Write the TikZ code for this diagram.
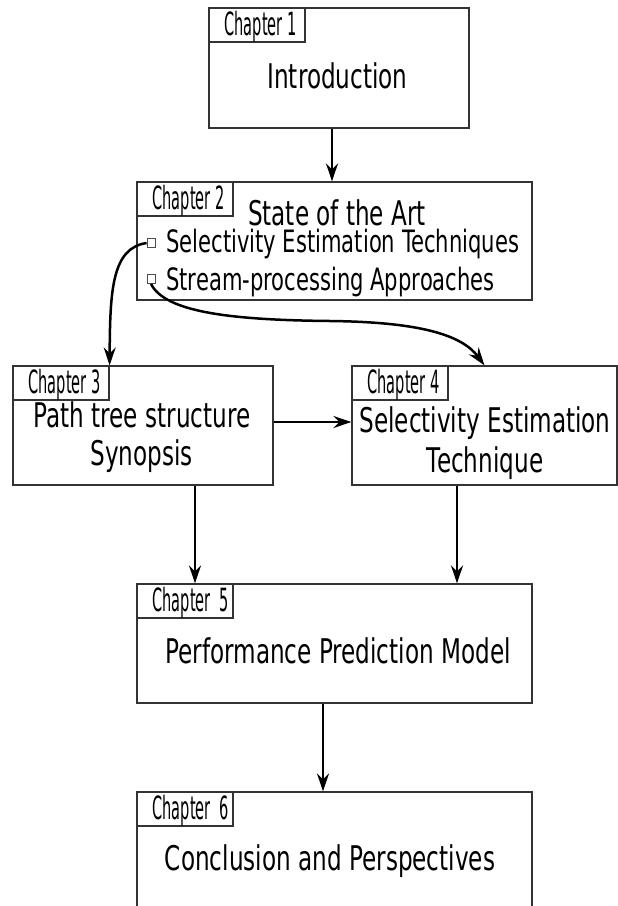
\documentclass[tikz,border=0pt]{standalone}
\usepackage{fontspec}
\setmainfont{DejaVu Sans}
\newfontfamily\mainf[FakeStretch=0.68]{DejaVu Sans}
\newfontfamily\bulf[FakeStretch=0.685]{DejaVu Sans}
\newfontfamily\tagf[FakeStretch=0.455]{DejaVu Sans}
\usetikzlibrary{arrows.meta,calc}
\tikzset{
 box/.style={draw=black!80, line width=1.2pt, inner sep=0pt},
 tagbox/.style={draw=black!80, line width=1.2pt, anchor=north west, minimum width=96pt, minimum height=34pt, inner xsep=0pt, inner ysep=3.5pt, text height=23.5pt, text depth=3.5pt, font=\tagf\fontsize{32}{34}\selectfont},
 big/.style={anchor=base, font=\mainf\fontsize{34}{38}\selectfont, inner sep=0pt},
 bul/.style={anchor=base west, font=\bulf\fontsize{30.8}{34}\selectfont, inner sep=0pt},
 sq/.style={draw=black!70, line width=0.8pt, minimum width=8pt, minimum height=9pt, inner sep=0pt},
 arr/.style={line width=2.5pt, -{Stealth[length=18pt,width=12pt,inset=6pt]}},
}
\newcommand\tagtext[1]{\makebox[96pt][l]{\hspace{15.5pt}#1}}
\begin{document}
\begin{tikzpicture}[x=1pt,y=-1pt]
\useasboundingbox (0,0) rectangle (618,906);
\clip (0,0) rectangle (618,906);
% Chapter 1
\node[box, minimum width=260pt, minimum height=120pt] (b1) at (339,68) {};
\node[tagbox] (t1) at (b1.north west) {\tagtext{Chapter 1}};
\node[big] (l1) at (337.5,88) {Introduction};
% Chapter 2
\node[box, minimum width=395pt, minimum height=118pt] (b2) at (334.5,241) {};
\node[tagbox] (t2) at (b2.north west) {\tagtext{Chapter 2}};
\node[big, text depth=0pt] (l2) at (337,225) {State of the Art};
\node[sq] (sq1) at (151,243) {};
\node[bul, text height=20pt] (s1) at (166,252) {Selectivity Estimation Techniques};
\node[sq] (sq2) at (151,279) {};
\node[bul] (s2) at (166,290) {Stream-processing Approaches};
% Chapter 3
\node[box, minimum width=260pt, minimum height=119pt] (b3) at (143,425.5) {};
\node[tagbox] (t3) at (b3.north west) {\tagtext{Chapter 3}};
\node[big] (l3a) at (142,427) {Path tree structure};
\node[big] (l3b) at (141.5,465) {Synopsis};
% Chapter 4
\node[box, minimum width=265pt, minimum height=119pt] (b4) at (484.5,425.5) {};
\node[tagbox] (t4) at (b4.north west) {\tagtext{Chapter 4}};
\node[big] (l4a) at (485,432) {Selectivity Estimation};
\node[big] (l4b) at (485,472) {Technique};
% Chapter 5
\node[box, minimum width=395pt, minimum height=119pt] (b5) at (334.5,643.5) {};
\node[tagbox] (t5) at (b5.north west) {\tagtext{Chapter~~5}};
\node[big] (l5) at (338,663) {Performance Prediction Model};
% Chapter 6
\node[box, minimum width=395pt, minimum height=140pt] (b6) at (334.5,862) {};
\node[tagbox] (t6) at (b6.north west) {\tagtext{Chapter~~6}};
\node[big] (l6) at (330,870) {Conclusion and Perspectives};
% connectors
\draw[arr] ([xshift=-7pt]b1.south) -- ([xshift=-7pt]b1.south |- b2.north);
\draw[arr] ([yshift=3.5pt]b3.east) -- ([yshift=3.5pt]b3.east -| b4.west);
\draw[arr] ([xshift=52pt]b3.south) -- ([xshift=52pt]b3.south |- b5.north);
\draw[arr] ([xshift=-27.5pt]b4.south) -- ([xshift=-27.5pt]b4.south |- b5.north);
\draw[arr] ([xshift=-11.5pt]b5.south) -- ([xshift=-11.5pt]b5.south |- b6.north);
\draw[arr] (sq1.west) .. controls (112,248) and (110,290) .. (t3.north east);
\coordinate (m2) at (330,321);
\draw[arr] (sq2.south) .. controls (165,312) and (230,320) .. (m2) .. controls (420,322) and (462,335) .. (b4.north);
\end{tikzpicture}
\end{document}
